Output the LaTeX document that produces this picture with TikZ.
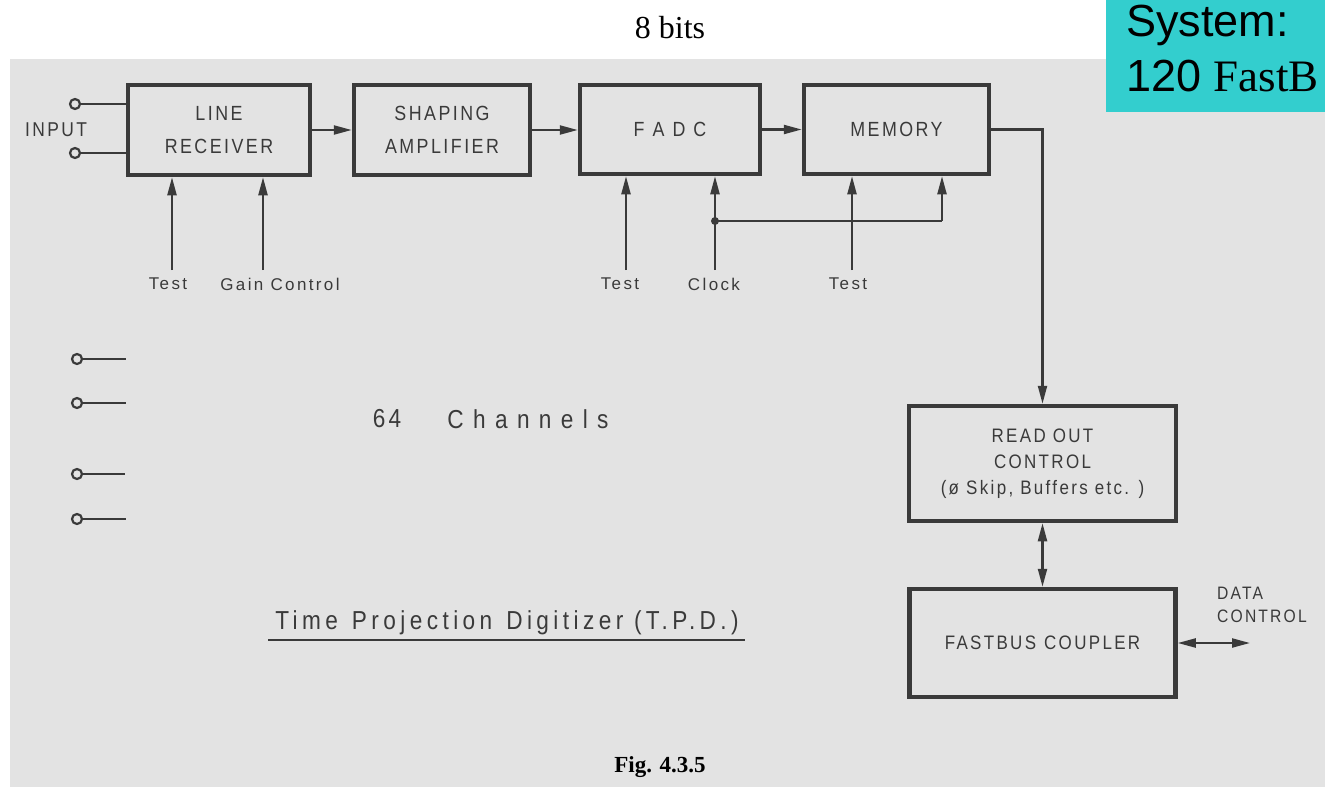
\documentclass[tikz,border=0pt]{standalone}
\usepackage{fontspec}
\setmainfont{Liberation Serif}
\setsansfont{Liberation Sans}
\newfontfamily\lab[LetterSpace=12, FakeStretch=0.87]{Liberation Sans}
\newfontfamily\labw[LetterSpace=36, FakeStretch=0.87]{Liberation Sans}
\newfontfamily\labt[LetterSpace=17, FakeStretch=0.87]{Liberation Sans}
\newfontfamily\labn[LetterSpace=14]{Liberation Sans}
\usetikzlibrary{arrows.meta}
\definecolor{ink}{RGB}{58,58,58}
\definecolor{paper}{RGB}{227,227,227}
\definecolor{cyanbox}{RGB}{51,206,206}
\begin{document}
\begin{tikzpicture}[x=1pt,y=-1pt,
  blk/.style={draw=ink, line width=4.5pt, rectangle, inner sep=0pt, text=ink, align=center},
  topfont/.style={font=\lab\fontsize{20.5}{33}\selectfont},
  rfont/.style={font=\lab\fontsize{19.5}{26}\selectfont},
  con/.style={draw=ink, line width=2.2pt},
  arr/.style={con, -{Triangle[length=18pt,width=9pt]}},
  darr/.style={con, {Triangle[length=18pt,width=9pt]}-{Triangle[length=18pt,width=9pt]}},
  term/.style={circle, draw=ink, line width=2.2pt, minimum size=10pt, inner sep=0pt},
  lbl/.style={text=ink, font=\labn\fontsize{17}{18}\selectfont, inner sep=0pt},
  caps/.style={text=ink, font=\lab\fontsize{20}{20}\selectfont, inner sep=0pt},
]
\useasboundingbox (0,0) rectangle (1325,787);
\fill[white] (0,0) rectangle (1325,787);
\fill[paper] (10,59) rectangle (1325,787);
\fill[cyanbox] (1106,0) rectangle (1325,112);

% header texts
\node[anchor=base west, inner sep=0pt, font=\sffamily\fontsize{45}{45}\selectfont] (sys) at (1126,36) {System:};
\node[anchor=base west, inner sep=0pt, font=\fontsize{45}{45}\selectfont] (fb) at (1126,91) {\sffamily 120 \rmfamily FastB};
\node[inner sep=0pt, font=\fontsize{32}{32}\selectfont] (bits) at (670,28) {8 bits};

% blocks
\node[blk, topfont, minimum width=182pt, minimum height=90pt] (lr) at (219,130) {LINE\\RECEIVER};
\node[blk, topfont, minimum width=176pt, minimum height=90pt] (sa) at (442,130) {SHAPING\\AMPLIFIER};
\node[blk, topfont, minimum width=180pt, minimum height=89pt] (fadc) at (670,129.5) {F\hspace{8pt}A\hspace{8pt}D\hspace{8pt}C};
\node[blk, topfont, minimum width=185pt, minimum height=89pt] (mem) at (896.5,129.5) {MEMORY};
\node[blk, rfont, minimum width=267pt, minimum height=115pt] (roc) at (1042.5,463.5) {READ OUT\\CONTROL\\(ø Skip, Buffers etc. )};
\node[blk, rfont, minimum width=266pt, minimum height=108pt] (fbc) at (1042.5,643) {FASTBUS\hspace{8pt}COUPLER};

% input terminals
\node[term] (i1) at (75,104) {};
\node[term] (i2) at (75,153) {};
\draw[con] (i1.east) -- (i1.east -| lr.west);
\draw[con] (i2.east) -- (i2.east -| lr.west);
\node[caps] (inp) at (56,130) {INPUT};

% chain
\draw[arr] (lr.east) -- (sa.west);
\draw[arr] (sa.east) -- (fadc.west |- sa.east);
\draw[arr] (fadc.east) -- (mem.west);
\draw[arr] (mem.east) -| (roc.north);
\draw[darr] (roc.south) -- (roc.south |- fbc.north);
\coordinate (dc) at (1250,643);
\draw[darr] (fbc.east) -- (dc);
\node[anchor=west, text=ink, font=\lab\fontsize{18}{23}\selectfont, align=left, inner sep=0pt] (dctext) at (1217,605) {DATA\\CONTROL};

% control inputs
\node[lbl] (t1) at (168,284) {Test};
\node[lbl] (gc) at (280,284) {Gain Control};
\node[lbl] (t2) at (620,284) {Test};
\node[lbl] (ck) at (714,284) {Clock};
\node[lbl] (t3) at (848,284) {Test};
\coordinate (t1s) at (172,270);
\coordinate (gcs) at (263,270);
\coordinate (t2s) at (626,270);
\coordinate (cks) at (715,270);
\coordinate (t3s) at (852,270);
\coordinate (jn) at (715,221);
\coordinate (m2) at (942,221);
\draw[arr] (t1s) -- (t1s |- lr.south);
\draw[arr] (gcs) -- (gcs |- lr.south);
\draw[arr] (t2s) -- (t2s |- fadc.south);
\draw[arr] (cks) -- (cks |- fadc.south);
\draw[arr] (t3s) -- (t3s |- mem.south);
\draw[con] (jn) -- (m2);
\draw[arr] (m2) -- (m2 |- mem.south);
\fill[ink] (jn) circle (4pt);

% other channel terminals
\node[term] (c1) at (77,359) {};
\node[term] (c2) at (77,403) {};
\node[term] (c3) at (77,474) {};
\node[term] (c4) at (77,519) {};
\coordinate (c1e) at (126,359);
\coordinate (c2e) at (126,403);
\coordinate (c3e) at (125,474);
\coordinate (c4e) at (126,519);
\draw[con] (c1.east) -- (c1e);
\draw[con] (c2.east) -- (c2e);
\draw[con] (c3.east) -- (c3e);
\draw[con] (c4.east) -- (c4e);

% texts
\node[text=ink, inner sep=0pt, font=\lab\fontsize{26}{26}\selectfont] (n64) at (387,419) {64};
\node[text=ink, inner sep=0pt, font=\labw\fontsize{26}{26}\selectfont] (chn) at (528,419) {Channels};
\node[text=ink, inner sep=0pt, font=\labt\fontsize{26}{26}\selectfont] (title) at (507,623) {Time\hspace{14pt}Projection\hspace{14pt}Digitizer (T.P.D.)};
\coordinate (ul1) at (268,640);
\coordinate (ul2) at (745,640);
\draw[ink, line width=2pt] (ul1) -- (ul2);
\node[inner sep=0pt, font=\bfseries\fontsize{23}{23}\selectfont] (fig) at (660,767) {Fig. 4.3.5};
\end{tikzpicture}
\end{document}
